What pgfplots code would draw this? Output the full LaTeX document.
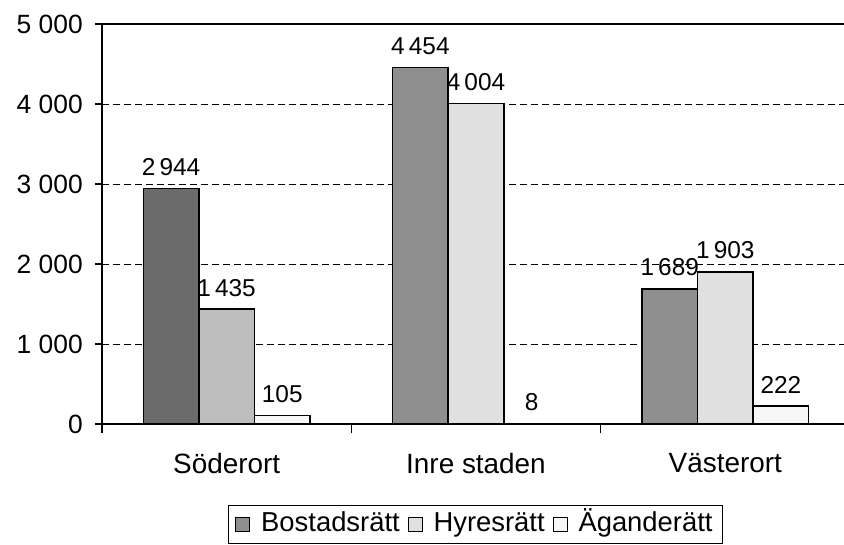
\documentclass[border=0pt]{standalone}
\usepackage{pgfplots}
\pgfplotsset{compat=1.18}
\usepackage{fontspec}
\setmainfont{Liberation Sans}
\definecolor{bdark}{gray}{0.42}
\definecolor{bmid}{gray}{0.56}
\definecolor{hmid}{gray}{0.74}
\definecolor{hlight}{gray}{0.88}
\definecolor{awhite}{gray}{0.97}
\begin{document}
\begin{tikzpicture}
\begin{axis}[
  name=ax,
  scale only axis, width=748bp, height=400bp,
  xmin=0.5, xmax=3.5, ymin=0, ymax=5000,
  clip=false,
  axis x line*=bottom, axis y line*=left,
  axis line style={line width=1.3bp, black},
  ytick={0,1000,2000,3000,4000,5000},
  yticklabels={0,1~000,2~000,3~000,4~000,5~000},
  yticklabel style={font=\fontsize{26.5}{30}\selectfont, inner sep=0pt, xshift=-12bp},
  xtick={1,2,3},
  xticklabels={Söderort,Inre staden,Västerort},
  xticklabel style={font=\fontsize{28}{32}\selectfont, inner sep=0pt, yshift=-22bp},
  minor xtick={0.5,1.5,2.5},
  tick align=outside,
  major tick length=7bp, minor tick length=9bp,
  xtick style={draw=none},
  minor x tick style={line width=1.2bp, black, draw=black},
  ytick style={line width=1.2bp, black},
  ymajorgrids,
  major grid style={dash pattern=on 7bp off 4bp, line width=1bp, black},
  ybar, bar width=0.2229,
  every axis plot/.append style={draw=black, line width=1.5bp},
  nodes near coords={\pgfmathprintnumber[1000 sep={\,}, assume math mode=true]{\pgfplotspointmeta}},
  nodes near coords style={font=\fontsize{24.5}{28}\selectfont, anchor=south, inner sep=0pt, yshift=12bp, black},
  legend columns=3,
  legend image code/.code={\draw[#1, line width=0.8bp] (0bp,-7bp) rectangle (14bp,7bp);},
  legend style={at={(0.4993,-0.2025)}, anchor=north, draw=black, line width=0.8bp,
    font=\fontsize{27.5}{32}\selectfont, inner xsep=7bp, inner ysep=3bp,
    nodes={inner sep=3bp, text height=20bp, text depth=6bp},
    /tikz/every odd column/.append style={column sep=8bp},
    /tikz/every even column/.append style={column sep=5bp}},
]
\addplot[fill=bmid, bar shift=-0.2229] coordinates {(2,4454) (3,1689)};
\addlegendentry{Bostadsrätt}
\addplot[fill=hlight, bar shift=0] coordinates {(2,4004) (3,1903)};
\addlegendentry{Hyresrätt}
\addplot[fill=awhite, bar shift=0.2229] coordinates {(1,105) (2,8) (3,222)};
\addlegendentry{Äganderätt}
\addplot[fill=bdark, bar shift=-0.2229, forget plot] coordinates {(1,2944)};
\addplot[fill=hmid, bar shift=0, forget plot] coordinates {(1,1435)};
\draw[line width=1.3bp, black] (rel axis cs:0,1) -- (rel axis cs:1,1);
\end{axis}
\pgfresetboundingbox
\path (ax.south west) ++(-102bp,-121bp) rectangle ++(844bp,545bp);
\end{tikzpicture}
\end{document}
